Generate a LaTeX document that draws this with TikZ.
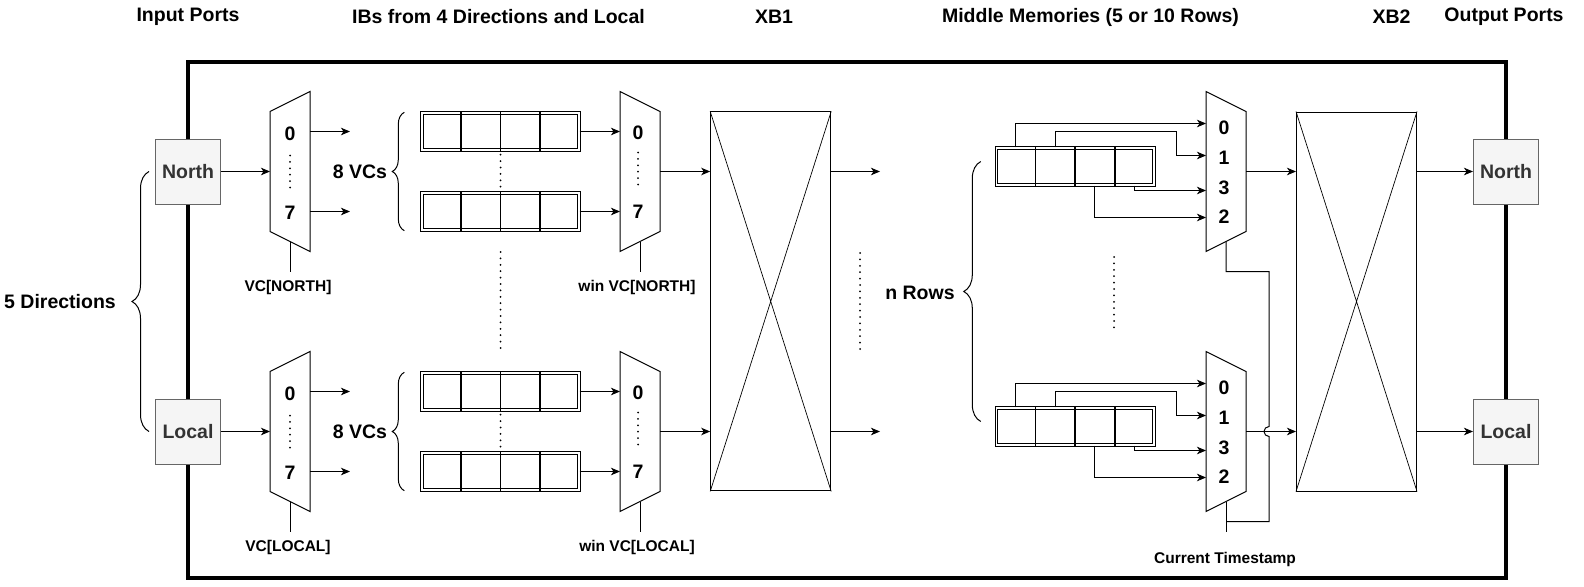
\documentclass[tikz,border=0pt]{standalone}
\usepackage{fontspec}
\setmainfont{Liberation Sans}
\usepackage{tikz}
\usetikzlibrary{arrows.meta,positioning,decorations.pathreplacing,calc}
\definecolor{portfill}{RGB}{245,245,245}
\definecolor{portline}{RGB}{102,102,102}
\definecolor{portink}{RGB}{51,51,51}

\begin{document}
\begin{tikzpicture}[x=1pt,y=-1pt,line width=1pt,
  >={Stealth[length=9pt,width=7.5pt,inset=2.5pt]},
  bigtxt/.style={font=\bfseries\fontsize{19.5}{22}\selectfont,inner sep=0pt},
  smalltxt/.style={font=\bfseries\fontsize{15.5}{18}\selectfont,inner sep=0pt},
  port/.style={rectangle,draw=portline,fill=portfill,text=portink,minimum size=65pt,inner sep=0pt,font=\bfseries\fontsize{19.5}{22}\selectfont},
  buf/.style={rectangle,draw,double,double distance=1.6pt,minimum width=157.4pt,minimum height=37.4pt,inner sep=0pt},
  xbar/.style={rectangle,draw,minimum width=120pt,minimum height=379pt,inner sep=0pt},
  dotline/.style={line width=2pt,line cap=round,dash pattern=on 0pt off 6.4pt},
  brc/.style={decorate,decoration={brace,amplitude=#1}}]
\useasboundingbox (0,0) rectangle (1584,586);
% Cell borders inside a buffer.
\newcommand{\cells}[1]{%
  \foreach \k in {1,2,3}
    \draw[line width=1.8pt] ($(#1.north west)!\k/4!(#1.north east)$) -- ($(#1.south west)!\k/4!(#1.south east)$);}
% One input row: splitter, 8 VC buffers, winner mux, XB1 output.
\newcommand{\ibrow}[3]{%
  \draw (270,{#2-60}) -- (310,{#2-80}) -- (310,{#2+80}) -- (270,{#2+60}) -- cycle;
  \coordinate (dm#1in) at (270,#2); \coordinate (dm#1sel) at (290,{#2+70});
  \coordinate (dm#1o0) at (310,{#2-40}); \coordinate (dm#1o7) at (310,{#2+40});
  \coordinate (dm#1e0) at (350,{#2-40}); \coordinate (dm#1e7) at (350,{#2+40});
  \coordinate (dm#1s) at (290,{#2+100});
  \node[bigtxt] (dm#1a) at (290,{#2-38}) {0};
  \node[bigtxt] (dm#1b) at (290,{#2+41}) {7};
  \draw[dotline] (290,{#2-16}) -- (290,{#2+17});
  \draw[->] (in#1) -- (dm#1in);
  \draw[->] (dm#1o0) -- (dm#1e0);
  \draw[->] (dm#1o7) -- (dm#1e7);
  \draw (dm#1sel) -- (dm#1s);
  \node[smalltxt] (dm#1t) at (288,{#2+115.5}) {VC[#3]};
  \node[buf] (ib#10) at (500.5,{#2-40}) {}; \cells{ib#10}
  \node[buf] (ib#17) at (500.5,{#2+40}) {}; \cells{ib#17}
  \draw[dotline] ([yshift=-4pt]ib#10.south) -- ([yshift=4pt]ib#17.north);
  \draw[brc=12pt] ([xshift=-17pt]ib#17.south west) -- ([xshift=-17pt]ib#10.north west);
  \node[bigtxt] (vc#1) at (360,#2) {8 VCs};
  \draw (620,{#2-80}) -- (660,{#2-60}) -- (660,{#2+60}) -- (620,{#2+80}) -- cycle;
  \coordinate (wm#1i0) at (620,{#2-40}); \coordinate (wm#1i7) at (620,{#2+40});
  \coordinate (wm#1out) at (660,#2); \coordinate (wm#1sel) at (640,{#2+70});
  \coordinate (wm#1s) at (640,{#2+100});
  \node[bigtxt] (wm#1a) at (638,{#2-38.5}) {0};
  \node[bigtxt] (wm#1b) at (638,{#2+40}) {7};
  \draw[dotline] (638,{#2-19}) -- (638,{#2+16});
  \draw[->] (ib#10.east) -- (wm#1i0);
  \draw[->] (ib#17.east) -- (wm#1i7);
  \draw (wm#1sel) -- (wm#1s);
  \node[smalltxt] (wm#1t) at (637,{#2+115.5}) {win VC[#3]};
  \draw[->] (wm#1out) -- (xbA.west |- wm#1out);
  \coordinate (xa#1) at (880,#2);
  \draw[->] (xbA.east |- xa#1) -- (xa#1);}
% One middle memory row with its read mux.
\newcommand{\mmrow}[2]{%
  \node[buf] (mm#1) at (1075,{#2-5}) {}; \cells{mm#1}
  \draw (1206,{#2-80}) -- (1246,{#2-60}) -- (1246,{#2+60}) -- (1206,{#2+80}) -- cycle;
  \coordinate (mx#1a) at (1206,{#2-48}); \coordinate (mx#1b) at (1206,{#2-16});
  \coordinate (mx#1c) at (1206,{#2+19}); \coordinate (mx#1d) at (1206,{#2+46});
  \coordinate (mx#1k) at (1176,{#2-40});
  \coordinate (mx#1out) at (1246,#2); \coordinate (mx#1sel) at (1226,{#2+70});
  \node[bigtxt] (mx#1t0) at (1224,{#2-44}) {0};
  \node[bigtxt] (mx#1t1) at (1224,{#2-14}) {1};
  \node[bigtxt] (mx#1t3) at (1224,{#2+16}) {3};
  \node[bigtxt] (mx#1t2) at (1224,{#2+45}) {2};
  \draw[->] ($(mm#1.north west)!0.125!(mm#1.north east)$) |- (mx#1a);
  \draw[->] ($(mm#1.north west)!0.375!(mm#1.north east)$) |- (mx#1k) |- (mx#1b);
  \draw[->] ($(mm#1.south west)!0.875!(mm#1.south east)$) |- (mx#1c);
  \draw[->] ($(mm#1.south west)!0.625!(mm#1.south east)$) |- (mx#1d);
  \draw[->] (mx#1out) -- (xbB.west |- mx#1out);}

% titles
\node[bigtxt] (tIn) at (188,17) {Input Ports};
\node[bigtxt] (tIB) at (498.5,17) {IBs from 4 Directions and Local};
\node[bigtxt] (tXA) at (774,17) {XB1};
\node[bigtxt] (tMM) at (1090.5,17) {Middle Memories (5 or 10 Rows)};
\node[bigtxt] (tXB) at (1391.5,17) {XB2};
\node[bigtxt] (tOut) at (1504,17) {Output Ports};

% router frame
\draw[line width=4pt] (188,62) rectangle (1506,578);

% ports
\node[port] (inN) at (188,171.5) {North};
\node[port] (inL) at (188,431.5) {Local};
\node[port] (outN) at (1506,171.5) {North};
\node[port] (outL) at (1506,431.5) {Local};
\draw[dotline] ([yshift=-4pt]inN.south) -- ([yshift=4pt]inL.north);
\draw[dotline] ([yshift=-4pt]outN.south) -- ([yshift=4pt]outL.north);
\draw[brc=17pt] ([xshift=-6pt]inL.west) -- ([xshift=-6pt]inN.west);
\node[bigtxt] (dir) at (60,302) {5 Directions};

% crossbars
\node[xbar] (xbA) at (770.7,301.4) {};
\node[xbar] (xbB) at (1356.5,301.5) {};
\draw[line width=0.7pt] (xbA.north west) -- (xbA.south east) (xbA.north east) -- (xbA.south west);
\draw[line width=0.7pt] (xbB.north west) -- (xbB.south east) (xbB.north east) -- (xbB.south west);

\ibrow{N}{171.5}{NORTH}
\ibrow{L}{431.5}{LOCAL}
\draw[dotline] (500.5,252) -- (500.5,352);
\draw[dotline] (860,253) -- (860,352);

\mmrow{N}{171.5}
\mmrow{L}{431.5}
\draw[dotline] (1114,257) -- (1114,333);
\draw[brc=17pt] ([xshift=-15pt,yshift=5pt]mmL.west) -- ([xshift=-15pt,yshift=5pt]mmN.west);
\node[bigtxt] (rows) at (920,293) {n Rows};

% timestamp wiring
\coordinate (tsA) at (1226,271.5); \coordinate (tsB) at (1269,271.5);
\coordinate (tsC) at (1269,521.5); \coordinate (tsD) at (1226,521.5);
\coordinate (tsE) at (1226,531.5);
\draw (mxNsel) -- (tsA) -- (tsB) -- (1269,426.5) arc[start angle=270,end angle=90,radius=5] -- (tsC) -- (tsD);
\draw (mxLsel) -- (tsE);
\node[smalltxt] (ts) at (1225,559) {Current Timestamp};

\draw[->] (xbB.east |- outN) -- (outN);
\draw[->] (xbB.east |- outL) -- (outL);
\end{tikzpicture}
\end{document}
